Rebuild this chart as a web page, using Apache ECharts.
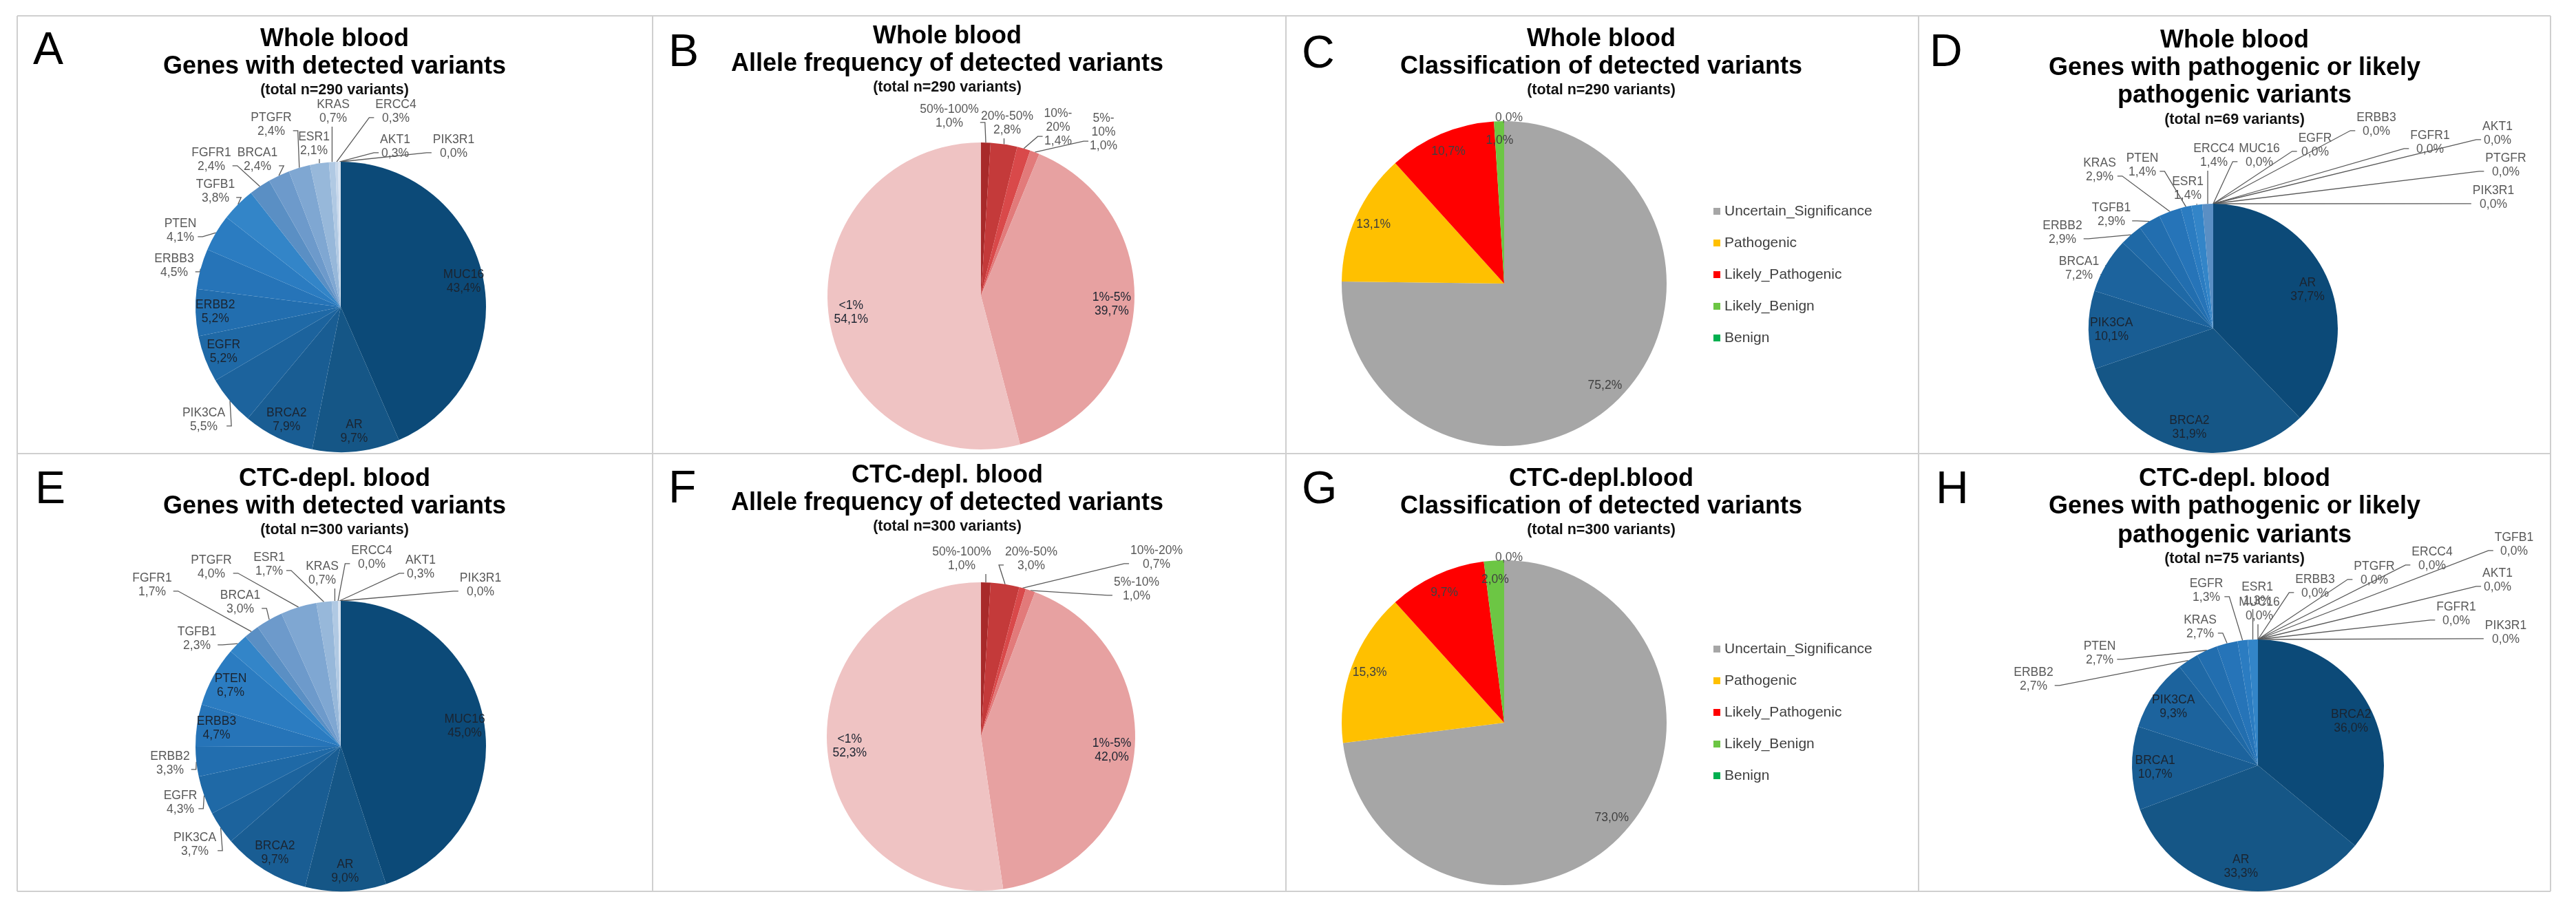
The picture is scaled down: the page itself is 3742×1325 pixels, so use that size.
<!DOCTYPE html>
<html><head><meta charset="utf-8">
<script src="https://cdn.jsdelivr.net/npm/echarts@6/dist/echarts.min.js"></script>
<style>html,body{margin:0;padding:0;background:#fff}#c{width:3742px;height:1325px}</style>
</head><body><div id="c"></div>
<script>
// ---------------- DATA ----------------
const genesWB = ['MUC16','AR','BRCA2','PIK3CA','EGFR','ERBB2','ERBB3','PTEN','TGFB1','FGFR1','BRCA1','PTGFR','ESR1','KRAS','ERCC4','AKT1','PIK3R1'];
const valuesA = [43.4,9.7,7.9,5.5,5.2,5.2,4.5,4.1,3.8,2.4,2.4,2.4,2.1,0.7,0.3,0.3,0.0];
const valuesE = [45.0,9.0,9.7,3.7,4.3,3.3,4.7,6.7,2.3,1.7,3.0,4.0,1.7,0.7,0.0,0.3,0.0];

const genesD = ['AR','BRCA2','PIK3CA','BRCA1','ERBB2','TGFB1','KRAS','PTEN','ESR1','ERCC4','MUC16','EGFR','ERBB3','FGFR1','AKT1','PTGFR','PIK3R1'];
const valuesD = [37.7,31.9,10.1,7.2,2.9,2.9,2.9,1.4,1.4,1.4,0.0,0.0,0.0,0.0,0.0,0.0,0.0];

const genesH = ['BRCA2','AR','BRCA1','PIK3CA','ERBB2','PTEN','KRAS','EGFR','ESR1','MUC16','ERBB3','PTGFR','ERCC4','TGFB1','AKT1','FGFR1','PIK3R1'];
const valuesH = [36.0,33.3,10.7,9.3,2.7,2.7,2.7,1.3,1.3,0.0,0.0,0.0,0.0,0.0,0.0,0.0,0.0];

const afCats = ['50%-100%','20%-50%','10%-20%','5%-10%','1%-5%','<1%'];
const valuesB = [1.0,2.8,1.4,1.0,39.7,54.1];
const valuesF = [1.0,3.0,0.7,1.0,42.0,52.3];

const clsCats = ['Uncertain_Significance','Pathogenic','Likely_Pathogenic','Likely_Benign','Benign'];
const valuesC = [75.2,13.1,10.7,1.0,0.0];
const valuesG = [73.0,15.3,9.7,2.0,0.0];

const titleLines = {
  A: ['Whole blood','Genes with detected variants'],
  B: ['Whole blood','Allele frequency of detected variants'],
  C: ['Whole blood','Classification of detected variants'],
  D: ['Whole blood','Genes with pathogenic or likely','pathogenic variants'],
  E: ['CTC-depl. blood','Genes with detected variants'],
  F: ['CTC-depl. blood','Allele frequency of detected variants'],
  G: ['CTC-depl.blood','Classification of detected variants'],
  H: ['CTC-depl. blood','Genes with pathogenic or likely','pathogenic variants']
};
const subTitles = {
  A: '(total n=290 variants)', B: '(total n=290 variants)', C: '(total n=290 variants)', D: '(total n=69 variants)',
  E: '(total n=300 variants)', F: '(total n=300 variants)', G: '(total n=300 variants)', H: '(total n=75 variants)'
};

// -------------- STYLE / LAYOUT --------------
const FONT = '"Liberation Sans", Arial, Helvetica, sans-serif';
const geneColors = ['#0c4a78','#155686','#195d93','#1c639d','#1f69a6','#226eaf','#2674b8','#2b7cc1','#3385c8','#5a8fc4','#6d9acb','#7fa7d2','#97b8da','#b0c9e3','#c6d7eb','#d6e2f0','#e2ebf5'];
const afColors = ['#a82a2a','#c43a3a','#d9494a','#e27a7a','#e7a1a1','#efc3c3'];
const clsColors = ['#a6a6a6','#ffc000','#ff0000','#6cc644','#00b050'];

// outside-label placement (offset of label centre from pie centre, px) – layout only
const labelPos = {
  A: {PIK3CA:[-199,164], ERBB3:[-242,-60], PTEN:[-233,-111], TGFB1:[-182,-168], FGFR1:[-188,-214], BRCA1:[-121,-214], PTGFR:[-101,-265], ESR1:[-39,-237], KRAS:[-11,-284], ERCC4:[80,-284], AKT1:[79,-233], PIK3R1:[164,-233]},
  B: {'50%-100%':[-46,-261], '20%-50%':[38,-251], '10%-20%':[112,-245], '5%-10%':[178,-238]},
  C: {Benign:[7,-241]},
  D: {BRCA1:[-195,-87], ERBB2:[-219,-139], TGFB1:[-148,-165], KRAS:[-165,-230], PTEN:[-103,-237], ESR1:[-37,-203], ERCC4:[1,-251], MUC16:[67,-251], EGFR:[148,-266], ERBB3:[237,-296], FGFR1:[315,-270], AKT1:[413,-283], PTGFR:[425,-237], PIK3R1:[407,-190]},
  E: {PIK3CA:[-212,143], EGFR:[-233,82], ERBB2:[-248,25], TGFB1:[-209,-156], FGFR1:[-274,-234], BRCA1:[-146,-209], PTGFR:[-188,-260], ESR1:[-104,-264], KRAS:[-27,-251], ERCC4:[45,-274], AKT1:[116,-260], PIK3R1:[203,-234]},
  F: {'50%-100%':[-28,-258], '20%-50%':[73,-258], '10%-20%':[255,-260], '5%-10%':[226,-214]},
  G: {Benign:[7,-240]},
  H: {ERBB2:[-326,-125], PTEN:[-230,-163], KRAS:[-84,-201], EGFR:[-75,-254], ESR1:[-1,-249], MUC16:[2,-227], ERBB3:[83,-260], PTGFR:[169,-279], ERCC4:[253,-300], TGFB1:[372,-321], AKT1:[348,-269], FGFR1:[288,-220], PIK3R1:[360,-193]}
};

const panels = [
  {id:'A', names:genesWB, values:valuesA, colors:geneColors, inside:['MUC16','AR','BRCA2','EGFR','ERBB2'], center:[495,446], r:211, inF:1.7, mode:'nv', tx:486, ty:[57,97], sy:131, lx:48, ly:75},
  {id:'B', names:afCats, values:valuesB, colors:afColors, inside:['1%-5%','<1%'], center:[1425,430], r:223, inF:1.68, mode:'nv', wrap:['10%-20%','5%-10%'], tx:1376, ty:[53,93], sy:127, lx:971, ly:78},
  {id:'C', names:clsCats, values:valuesC, colors:clsColors, inside:['Uncertain_Significance','Pathogenic','Likely_Pathogenic','Likely_Benign'], center:[2185,412], r:236, inF:1.74, mode:'v', tx:2326, ty:[57,97], sy:131, lx:1891, ly:80, legendTop:290},
  {id:'D', names:genesD, values:valuesD, colors:geneColors, inside:['AR','BRCA2','PIK3CA'], center:[3215,477], r:181, inF:1.6, mode:'nv', tx:3246, ty:[59,99,139], sy:174, lx:2803, ly:78},
  {id:'E', names:genesWB, values:valuesE, colors:geneColors, inside:['MUC16','AR','BRCA2','PTEN','ERBB3'], center:[495,1084], r:211, inF:1.7, mode:'nv', tx:486, ty:[696,736], sy:770, lx:51, ly:713},
  {id:'F', names:afCats, values:valuesF, colors:afColors, inside:['1%-5%','<1%'], center:[1425,1070], r:224, inF:1.68, mode:'nv', tx:1376, ty:[691,731], sy:765, lx:971, ly:712},
  {id:'G', names:clsCats, values:valuesG, colors:clsColors, inside:['Uncertain_Significance','Pathogenic','Likely_Pathogenic','Likely_Benign'], center:[2185,1050], r:236, inF:1.74, mode:'v', tx:2326, ty:[696,736], sy:770, lx:1891, ly:713, legendTop:926},
  {id:'H', names:genesH, values:valuesH, colors:geneColors, inside:['BRCA2','AR','BRCA1','PIK3CA'], center:[3280,1112], r:183, inF:1.6, mode:'nv', tx:3246, ty:[696,736,778], sy:812, lx:2812, ly:713}
];

const fmtPct = v => v.toFixed(1).replace('.', ',') + '%';

function makeFormatter(p) {
  return function (prm) {
    const val = fmtPct(prm.value);
    if (p.mode === 'v') return val;
    let nm = prm.name;
    if (p.wrap && p.wrap.indexOf(nm) >= 0) nm = nm.replace('-', '-\n');
    return nm + '\n' + val;
  };
}

// Excel-like label placement with leader lines from the slice edge
function makeLabelLayout(p) {
  const total = p.values.reduce((a, b) => a + b, 0);
  const cum = [];
  let acc = 0;
  p.values.forEach(v => { cum.push(acc); acc += v; });
  return function (params) {
    const i = params.dataIndex;
    const name = p.names[i];
    const pos = labelPos[p.id][name];
    if (!pos) return {};
    const ang = (cum[i] + p.values[i] / 2) / total * Math.PI * 2;
    const ex = p.center[0] + p.r * Math.sin(ang);
    const ey = p.center[1] - p.r * Math.cos(ang);
    const lx = p.center[0] + pos[0], ly = p.center[1] + pos[1];
    const w = params.labelRect.width, h = params.labelRect.height;
    const left = lx - w / 2, right = lx + w / 2, top = ly - h / 2, bottom = ly + h / 2;
    let pts;
    const ay = p.mode === 'v' ? ly : ly + h * 0.22;
    if (ex >= left + 3 && ex <= right - 3 && ey > bottom) {
      pts = [[ex, ey], [ex, bottom + 2], [ex, bottom + 2]];
    } else if (ex < left) {
      pts = [[ex, ey], [left - 9, ay], [left - 2, ay]];
    } else if (ex > right) {
      pts = [[ex, ey], [right + 9, ay], [right + 2, ay]];
    } else {
      const by = ey > ly ? bottom + 2 : top - 2;
      pts = [[ex, ey], [ex, by], [ex, by]];
    }
    return {x: lx, y: ly, align: 'center', verticalAlign: 'middle', labelLinePoints: pts};
  };
}

const series = [];
panels.forEach(p => {
  const fmt = makeFormatter(p);
  // visible pie with outside labels
  series.push({
    type: 'pie', name: p.id, center: p.center, radius: [0, p.r], startAngle: 90, clockwise: true,
    animation: false, avoidLabelOverlap: false, emphasis: {disabled: true},
    itemStyle: {borderWidth: 0},
    label: {position: 'outside', formatter: fmt, fontFamily: FONT, fontSize: 17.5, lineHeight: 20, color: '#595959', align: 'center'},
    labelLine: {show: true, length: 14, length2: 8, lineStyle: {color: '#595959', width: 1.3}},
    labelLayout: makeLabelLayout(p),
    data: p.names.map((n, i) => {
      const out = p.inside.indexOf(n) < 0;
      return {name: n, value: p.values[i], itemStyle: {color: p.colors[i]}, label: {show: out}, labelLine: {show: out}};
    })
  });
  // transparent pie carrying inner labels near the rim
  series.push({
    type: 'pie', name: p.id + '_lbl', center: p.center, radius: [0, p.r * p.inF], startAngle: 90, clockwise: true,
    animation: false, silent: true, avoidLabelOverlap: false, emphasis: {disabled: true}, z: 3,
    itemStyle: {color: 'rgba(0,0,0,0)', borderWidth: 0},
    label: {position: 'inside', formatter: fmt, fontFamily: FONT, fontSize: 17.5, lineHeight: 20, color: p.mode === 'v' ? '#404040' : '#1b2430'},
    labelLine: {show: false},
    data: p.names.map((n, i) => ({name: n, value: p.values[i], itemStyle: {color: 'rgba(0,0,0,0)'}, label: {show: p.inside.indexOf(n) >= 0}}))
  });
});

const legends = panels.filter(p => p.legendTop !== undefined).map(p => ({
  orient: 'vertical', left: 2484, top: p.legendTop, icon: 'rect', itemWidth: 10, itemHeight: 10, itemGap: 22,
  selectedMode: false,
  data: clsCats.map((n, i) => ({name: n, itemStyle: {color: clsColors[i]}})),
  textStyle: {fontFamily: FONT, fontSize: 21, lineHeight: 24, color: '#404040', padding: [0, 0, 0, 1]}
}));

const graphics = [];
const bx = [25, 948, 1868, 2787, 3705], by = [23, 659, 1295];
by.forEach(y => graphics.push({type: 'line', shape: {x1: bx[0], y1: y, x2: bx[4], y2: y}, style: {stroke: '#cfcfcf', lineWidth: 2}}));
bx.forEach(x => graphics.push({type: 'line', shape: {x1: x, y1: by[0], x2: x, y2: by[2]}, style: {stroke: '#cfcfcf', lineWidth: 2}}));
panels.forEach(p => {
  graphics.push({type: 'text', x: p.lx, y: p.ly, style: {text: p.id, fontFamily: FONT, fontSize: 66, fill: '#000', textAlign: 'left', textVerticalAlign: 'middle'}});
  titleLines[p.id].forEach((t, k) => graphics.push({type: 'text', x: p.tx, y: p.ty[k], style: {text: t, fontFamily: FONT, fontWeight: 'bold', fontSize: 36, fill: '#000', textAlign: 'center', textVerticalAlign: 'middle'}}));
  graphics.push({type: 'text', x: p.tx, y: p.sy, style: {text: subTitles[p.id], fontFamily: FONT, fontWeight: 'bold', fontSize: 21.5, fill: '#111', textAlign: 'center', textVerticalAlign: 'middle'}});
});

const chart = echarts.init(document.getElementById('c'), null, {renderer: 'canvas', width: 3742, height: 1325});
chart.setOption({
  backgroundColor: '#ffffff',
  animation: false,
  legend: legends,
  graphic: {elements: graphics},
  series: series
});
</script></body></html>
